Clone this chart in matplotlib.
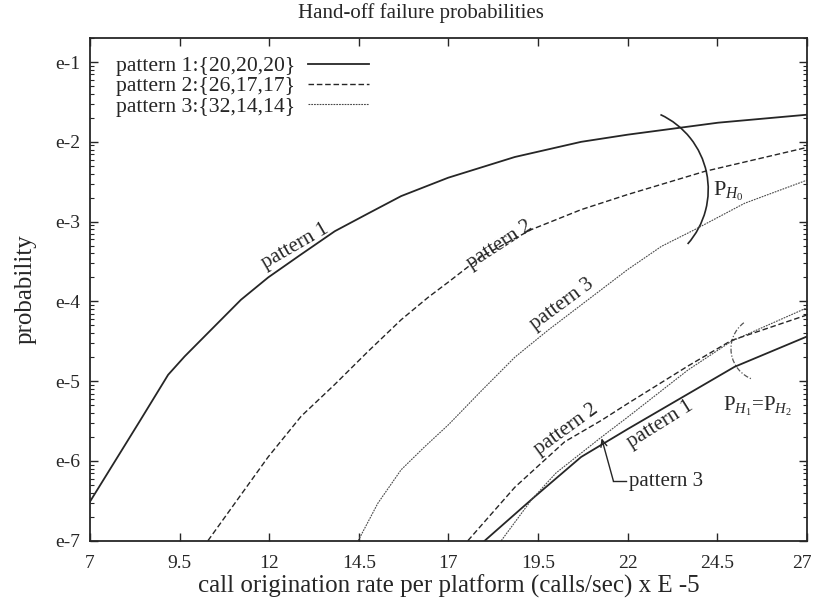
import numpy as np
import matplotlib
matplotlib.use("Agg")
import matplotlib.pyplot as plt
from matplotlib.patches import Arc
from matplotlib.transforms import ScaledTranslation
from matplotlib.ticker import FixedLocator, LogLocator, FuncFormatter, NullFormatter, NullLocator

plt.rcParams['font.family'] = ['Liberation Serif', 'DejaVu Serif']
plt.rcParams['mathtext.fontset'] = 'custom'
plt.rcParams['mathtext.rm'] = 'Liberation Serif'
plt.rcParams['mathtext.it'] = 'Liberation Serif:italic'

INK = '#262626'

# call origination rate (x 1e-5 calls/sec) and log10 of hand-off failure probability
# --- P_H0 group ---
p1_h0_x = [7.0, 8.39, 9.18, 9.64, 10.48, 11.21, 11.97, 12.86, 13.83, 14.75, 15.68, 16.99, 18.85, 20.70, 22.0, 24.52, 27.0]
p1_h0_log = [-6.51, -5.50, -4.92, -4.69, -4.31, -3.98, -3.70, -3.42, -3.12, -2.90, -2.68, -2.45, -2.19, -2.00, -1.91, -1.76, -1.66]

p2_h0_x = [10.29, 11.97, 12.89, 13.83, 14.75, 15.68, 16.43, 16.99, 17.91, 19.31, 20.70, 22.0, 24.15, 27.0]
p2_h0_log = [-7.0, -5.95, -5.44, -5.04, -4.63, -4.23, -3.95, -3.76, -3.44, -3.10, -2.85, -2.66, -2.37, -2.07]

p3_h0_x = [14.48, 15.03, 15.68, 16.34, 16.99, 17.92, 18.85, 19.78, 20.89, 22.0, 22.94, 23.87, 25.26, 27.0]
p3_h0_log = [-7.0, -6.53, -6.11, -5.82, -5.55, -5.12, -4.70, -4.36, -3.98, -3.60, -3.31, -3.10, -2.77, -2.48]

# --- P_H1 = P_H2 group ---
p1_h1_x = [18.01, 19.40, 20.70, 22.0, 24.98, 27.0]
p1_h1_log = [-7.0, -6.45, -5.95, -5.60, -4.82, -4.44]

p2_h1_x = [17.54, 18.85, 20.24, 21.27, 22.0, 23.68, 24.89, 27.0]
p2_h1_log = [-7.0, -6.33, -5.76, -5.49, -5.28, -4.81, -4.49, -4.17]

p3_h1_x = [18.47, 19.31, 20.0, 21.27, 22.0, 23.68, 24.89, 27.0]
p3_h1_log = [-7.0, -6.49, -6.15, -5.70, -5.45, -4.86, -4.50, -4.08]

legend_labels = ['pattern 1:{20,20,20}', 'pattern 2:{26,17,17}', 'pattern 3:{32,14,14}']
x_ticks = [7, 9.5, 12, 14.5, 17, 19.5, 22, 24.5, 27]
x_tick_labels = ['7', '9.5', '12', '14.5', '17', '19.5', '22', '24.5', '27']
y_ticks = [1e-1, 1e-2, 1e-3, 1e-4, 1e-5, 1e-6, 1e-7]

styles = [
    dict(color=INK, lw=1.3, ls='-'),
    dict(color=INK, lw=1.0, ls=(0, (4, 2))),
    dict(color='#4a4a4a', lw=0.8, ls=(0, (1.6, 0.9))),
]

fig = plt.figure(figsize=(8.15, 6.01), dpi=100)
ax = fig.add_axes([0.1104, 0.1003, 0.8798, 0.8364])

groups_h0 = [(p1_h0_x, p1_h0_log), (p2_h0_x, p2_h0_log), (p3_h0_x, p3_h0_log)]
groups_h1 = [(p1_h1_x, p1_h1_log), (p2_h1_x, p2_h1_log), (p3_h1_x, p3_h1_log)]

for (x, lg), st, lab in zip(groups_h0, styles, legend_labels):
    ax.plot(x, 10.0 ** np.asarray(lg), label=lab, **st)
for (x, lg), st in zip(groups_h1, styles):
    ax.plot(x, 10.0 ** np.asarray(lg), **st)

ax.set_yscale('log')
ax.set_xlim(7, 27)
ax.set_ylim(1e-7, 0.2)

ax.xaxis.set_major_locator(FixedLocator(x_ticks))
ax.set_xticklabels(x_tick_labels)
ax.xaxis.set_minor_locator(NullLocator())
ax.yaxis.set_major_locator(FixedLocator(y_ticks))
ax.yaxis.set_major_formatter(FuncFormatter(lambda v, _: f"e{int(round(np.log10(v)))}"))
ax.yaxis.set_minor_locator(LogLocator(base=10, subs=np.arange(2, 10)))
ax.yaxis.set_minor_formatter(NullFormatter())

ax.tick_params(which='both', direction='in', top=True, right=True, color=INK,
               labelcolor=INK, labelsize=14)
ax.tick_params(which='major', length=6, width=1.0)
ax.tick_params(axis='y', which='major', pad=7)
ax.tick_params(axis='x', which='major', pad=10)
ax.tick_params(which='minor', length=3, width=0.8)
for sp in ax.spines.values():
    sp.set_linewidth(1.3)
    sp.set_color(INK)

# keep the right-most tick label inside the canvas
last = ax.get_xticklabels()[-1]
last.set_transform(last.get_transform() + ScaledTranslation(-4 / 72, 0, fig.dpi_scale_trans))

ax.set_xlabel('call origination rate per platform (calls/sec) x E -5', fontsize=18, color=INK, labelpad=2)
ax.set_ylabel('probability', fontsize=18, color=INK, labelpad=13)
fig.text(0.517, 0.978, 'Hand-off failure probabilities', ha='center', va='center',
         fontsize=15, color=INK)

leg = ax.legend(loc='upper left', frameon=False, markerfirst=False, fontsize=15.6,
                handlelength=2.8, handletextpad=0.6, labelspacing=0.0,
                borderaxespad=0.2, bbox_to_anchor=(0.018, 0.99))
for t in leg.get_texts():
    t.set_color(INK)

# labels written along the curves
curve_labels = [
    ('pattern 1', 12.72, 4.84e-4, 30),
    ('pattern 2', 18.43, 5.1e-4, 33),
    ('pattern 3', 20.17, 9.3e-5, 36.5),
    ('pattern 2', 20.28, 2.45e-6, 36),
    ('pattern 1', 22.90, 2.9e-6, 32),
]
for txt, x, y, rot in curve_labels:
    ax.text(x, y, txt, rotation=rot, rotation_mode='anchor', ha='center', va='center',
            fontsize=15, color=INK)

# pointer to the lower pattern 3 curve
ax.plot([21.95, 21.60], [5.6e-7, 5.6e-7], color=INK, lw=1.0)
ax.annotate('', xy=(21.27, 1.93e-6), xytext=(21.60, 5.6e-7),
            arrowprops=dict(arrowstyle='->,head_length=0.5,head_width=0.22', color=INK,
                            lw=1.0, shrinkA=0, shrinkB=0))
ax.text(22.03, 5.6e-7, 'pattern 3', ha='left', va='center', fontsize=15, color=INK)

# group brackets
ax.add_patch(Arc((0.7472, 0.6988), 0.2301, 0.3282, theta1=-51.5, theta2=72,
                 transform=ax.transAxes, color=INK, lw=1.2))
ax.text(24.38, 2.36e-3, r'P$_{H_0}$', ha='left', va='center', fontsize=16, color=INK)

ax.add_patch(Arc((0.9393, 0.3821), 0.0907, 0.1293, theta1=118, theta2=256,
                 transform=ax.transAxes, color='#555555', lw=0.9, ls=(0, (4, 1.5, 1, 1.5))))
ax.text(24.66, 4.77e-6, r'P$_{H_1}$=P$_{H_2}$', ha='left', va='center', fontsize=15, color=INK)

fig.savefig('out.png', dpi=100, facecolor='white')
